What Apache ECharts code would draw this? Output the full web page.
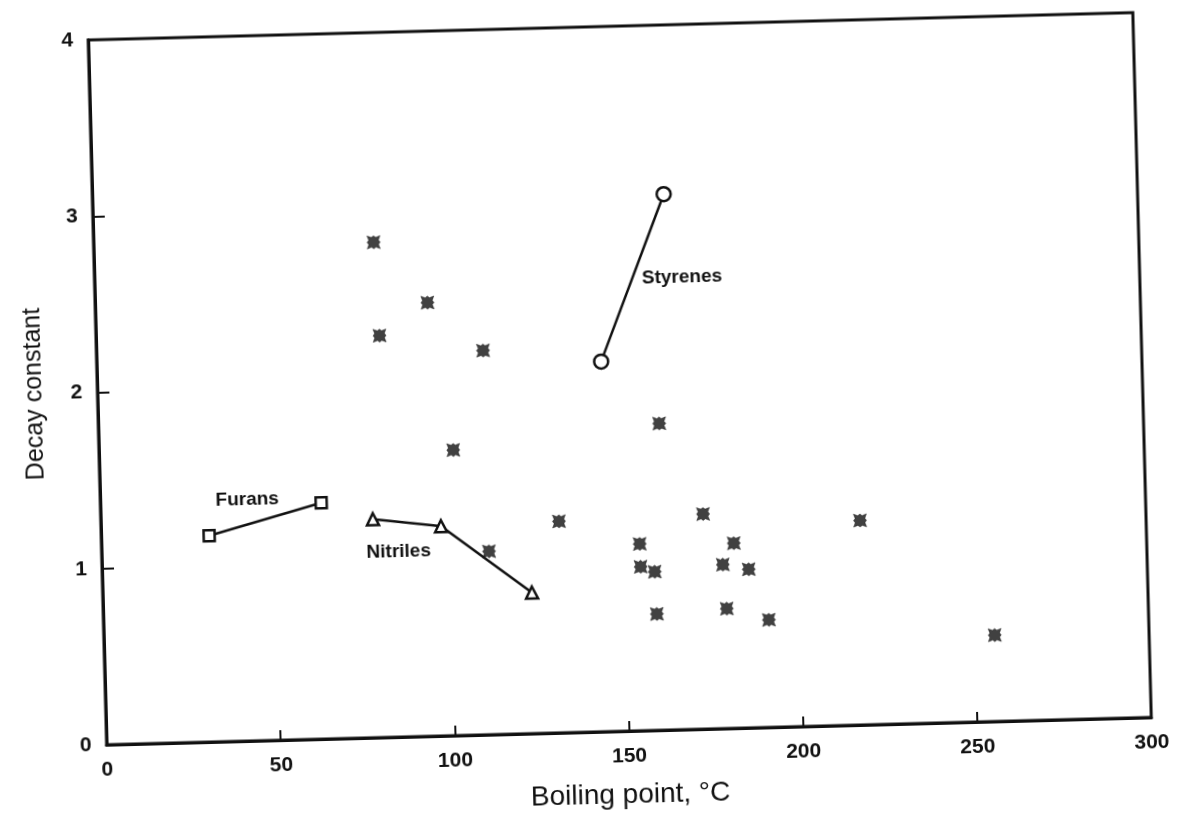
<!DOCTYPE html>
<html>
<head>
<meta charset="utf-8">
<script src="https://cdn.jsdelivr.net/npm/echarts@6/dist/echarts.min.js"></script>
<style>
html,body{margin:0;padding:0;background:#fff;overflow:hidden;}
#c{width:1178px;height:818px;transform:rotate(-1.5deg);transform-origin:589px 409px;}
</style>
</head>
<body>
<div id="c"></div>
<script>
// ---- data ----
const xTicks = [0, 50, 100, 150, 200, 250, 300];
const yTicks = [0, 1, 2, 3, 4];
const otherX = [80.4, 81.4, 95.4, 111, 101.7, 111.2, 131.5, 161, 172.9, 154.5, 154.6, 158.6, 158.9, 181.5, 178.2, 185.6, 179, 191, 217.9, 255.7];
const otherY = [2.81, 2.28, 2.46, 2.18, 1.62, 1.04, 1.20, 1.74, 1.22, 1.06, 0.93, 0.90, 0.66, 1.05, 0.93, 0.90, 0.68, 0.61, 1.16, 0.49];
const furansX = [31, 63.4];
const furansY = [1.17, 1.34];
const nitrilesX = [78.1, 97.6, 123.2];
const nitrilesY = [1.24, 1.19, 0.80];
const styrenesX = [144.8, 164];
const styrenesY = [2.10, 3.04];
const groupNames = ['Furans', 'Nitriles', 'Styrenes'];

// ---- chart ----
const ink = '#111';
const font = '"Liberation Sans", Arial, sans-serif';
const pairs = (xs, ys) => xs.map((x, i) => [x, ys[i]]);
const starPath = 'path://M0,0 L4,1.5 L6,0 L8,1.5 L12,0 L10.5,4 L12,6 L10.5,8 L12,12 L8,10.5 L6,12 L4,10.5 L0,12 L1.5,8 L0,6 L1.5,4 Z';

function groupData(xs, ys, name, offset) {
  return pairs(xs, ys).map((p, i) => i === 0 ? {
    value: p,
    label: { show: true, formatter: name, position: 'inside', offset: offset,
      color: ink, fontFamily: font, fontSize: 19, fontWeight: 'bold' }
  } : { value: p });
}

const lineCommon = {
  type: 'line',
  lineStyle: { color: ink, width: 2.5 },
  itemStyle: { color: '#fff', borderColor: ink, borderWidth: 2.5 },
  showSymbol: true,
  z: 3,
  animation: false
};

const chart = echarts.init(document.getElementById('c'), null, { renderer: 'canvas' });
chart.setOption({
  backgroundColor: 'transparent',
  animation: false,
  grid: { left: 98, right: 35, top: 27, bottom: 86, show: true, borderColor: ink, borderWidth: 3 },
  xAxis: {
    type: 'value', min: xTicks[0], max: xTicks[xTicks.length - 1], interval: 50,
    name: 'Boiling point, °C', nameLocation: 'middle', nameGap: 50,
    nameTextStyle: { color: ink, fontFamily: font, fontSize: 28 },
    axisLine: { show: true, lineStyle: { color: ink, width: 3 } },
    axisTick: { show: true, inside: true, length: 10, lineStyle: { color: ink, width: 2 } },
    axisLabel: { color: ink, fontFamily: font, fontSize: 21, fontWeight: 'bold', margin: 15 },
    splitLine: { show: false }
  },
  yAxis: {
    type: 'value', min: yTicks[0], max: yTicks[yTicks.length - 1], interval: 1,
    name: 'Decay constant', nameLocation: 'middle', nameGap: 50, nameRotate: 90,
    nameTextStyle: { color: ink, fontFamily: font, fontSize: 25 },
    axisLine: { show: true, lineStyle: { color: ink, width: 3 } },
    axisTick: { show: true, inside: true, length: 12, lineStyle: { color: ink, width: 2 } },
    axisLabel: { color: ink, fontFamily: font, fontSize: 21, fontWeight: 'bold', margin: 15 },
    splitLine: { show: false }
  },
  series: [
    {
      type: 'scatter', name: 'Other',
      data: pairs(otherX, otherY),
      symbol: starPath, symbolSize: 13,
      itemStyle: { color: ink, borderColor: ink, borderWidth: 0.5 }, z: 4
    },
    Object.assign({}, lineCommon, {
      name: groupNames[0], symbol: 'rect', symbolSize: 11,
      data: groupData(furansX, furansY, groupNames[0], [39, -35])
    }),
    Object.assign({}, lineCommon, {
      name: groupNames[1], symbol: 'triangle', symbolSize: 12,
      data: groupData(nitrilesX, nitrilesY, groupNames[1], [25, 33])
    }),
    Object.assign({}, lineCommon, {
      name: groupNames[2], symbol: 'circle', symbolSize: 14,
      data: groupData(styrenesX, styrenesY, groupNames[2], [83, -82])
    })
  ]
});
</script>
</body>
</html>
